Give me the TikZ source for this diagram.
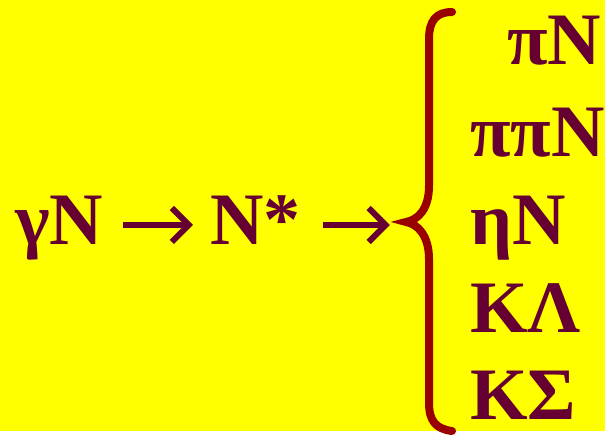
\documentclass[tikz,border=0pt]{standalone}
\usepackage{fontspec}
\setmainfont{Liberation Serif}
\usetikzlibrary{arrows.meta}
\definecolor{fondo}{HTML}{FFFF00}
\definecolor{texto}{HTML}{660033}
\definecolor{llave}{HTML}{990000}

\begin{document}
\begin{tikzpicture}[x=1pt,y=1pt,
  txt/.style={inner sep=0pt,anchor=base west,text=texto,
    font=\fontsize{74}{80}\bfseries\selectfont},
  flecha/.style={texto,line width=6pt,-{Straight Barb[length=17pt,width=34pt]}}]

\fill[fondo] (0,0) rectangle (605,431);

% reaccion
\node[txt] (gN) at (15,186) {γN};
\node[txt] (Ns) at (210,186) {N*};
\draw[flecha] ([shift={(20pt,20pt)}]gN.base east) -- ([shift={(-17pt,20pt)}]Ns.base west);
\draw[flecha] ([shift={(22pt,20pt)}]Ns.base east) -- ++(67pt,0);

% llave
\draw[llave,line width=8pt,line cap=round]
  (452,419) .. controls (436,419) and (429,410) .. (429,392)
  -- (429,245) .. controls (429,222) and (418,211) .. (406,209)
  .. controls (418,207) and (429,195) .. (429,172)
  -- (429,28) .. controls (429,10) and (436,2) .. (452,0);

% canales
\node[txt] (c1) at (507,366) {πN};
\node[txt] (c2) at (470,274) {ππN};
\node[txt] (c3) at (470,186) {ηN};
\node[txt] (c4) at (470,98) {ΚΛ};
\node[txt] (c5) at (470,11) {ΚΣ};

\end{tikzpicture}
\end{document}
